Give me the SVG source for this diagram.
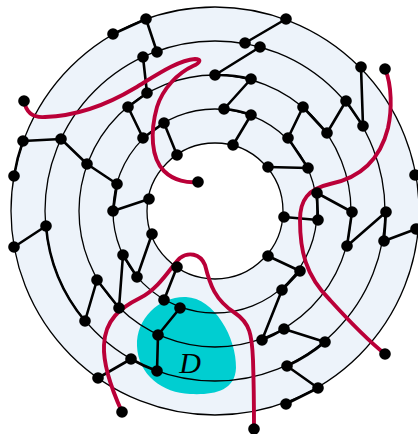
<svg xmlns="http://www.w3.org/2000/svg" width="418" height="434" viewBox="0 0 418 434">
<style>
.ring{fill:none;stroke:#000;stroke-width:1.3}
.e{fill:none;stroke:#000;stroke-width:2.6;stroke-linecap:round}
.r{fill:none;stroke:#BA0038;stroke-width:3.9;stroke-linecap:round;stroke-linejoin:round}
.n circle{fill:#000;r:5.8px}
</style>
<rect width="418" height="434" fill="#fff"/>
<path d="M215,7 A204,204 0 1 1 214.99,7 Z M215,143 A68,68 0 1 0 215.01,143 Z" fill="#EDF3FA" fill-rule="evenodd"/>
<path id="D-region" d="M137,346 C136,318 160,296 186,297 C214,298 237,338 236,368 C235,392 212,395 190,394 C163,393 138,375 137,346 Z" fill="#00CED1"/>
<g id="rings">
<circle class="ring" cx="215" cy="211" r="204"/>
<circle class="ring" cx="215" cy="211" r="170"/>
<circle class="ring" cx="215" cy="211" r="136"/>
<circle class="ring" cx="215" cy="211" r="102"/>
<circle class="ring" cx="215" cy="211" r="68"/>
</g>
<g id="connectors">
<path class="e" d="M113,34L146,19M146,19L157,52M143,57L147,93M147,93L128,107M128,107L143,138M143,138L164,123M164,123L177,155"/>
<path class="e" d="M23,141L61,139M23,141A204,204 0 0 0 14,176M61,139L87,164M87,164L117,184M117,184L113,211M113,211L149,199"/>
<path class="e" d="M14,247L46,226M46,226A170,170 0 0 0 85,321M97,280L85,321M97,280L119,308M123,255L119,308M123,255L137,277M152,234L137,277"/>
<path class="e" d="M177,267L164,300M180,308L158,335M158,335L157,371M131,359A170,170 0 0 0 157,371M98,378L131,359"/>
<path class="e" d="M286,19L245,43M260,47L215,75M215,75A136,136 0 0 1 251,79M251,79L224,109M224,109A102,102 0 0 1 251,115M251,115L233,145"/>
<path class="e" d="M303,107L288,138M303,107L327,133M327,133L346,101M346,101L363,126M361,67L363,126M288,138L308,168M268,167L308,168"/>
<path class="e" d="M317,193L352,212M317,193L318,220M284,217L318,220M352,212L347,246M347,246L386,212M386,212L384,241M384,241L416,229"/>
<path class="e" d="M268,256L300,271M300,271L282,290M282,290L262,340M262,340A136,136 0 0 0 284,329M284,329L325,342M325,342A170,170 0 0 1 287,366M287,366L318,388M318,388L286,404"/>
</g>
<g id="curves">
<path class="r" d="M24,101 C26,112 33,118 45,117 C75,116 105,106 135,88 C155,76 178,60 195,59 C202,59 200,63 193,66 C178,73 163,88 157,107 C150,132 151,158 164,171 C174,181 188,183 198,182"/>
<path class="r" d="M385,69 C392,85 392,110 388,128 C380,160 360,178 330,184 C308,189 300,200 300,220 C300,250 305,275 330,300 C350,322 370,342 385,354"/>
<path class="r" d="M122,412 C112,390 103,365 104,345 C105,320 120,308 140,298 C160,288 172,265 180,258 C188,252 200,253 205,265 C210,285 215,300 235,313 C250,323 252,335 253,360 C254,390 254,410 254,429"/>
</g>
<g id="nodes">
<g id="outer" class="n">
<circle cx="113" cy="34" r="5.8"/><circle cx="146" cy="19" r="5.8"/><circle cx="286" cy="19" r="5.8"/><circle cx="361" cy="67" r="5.8"/>
<circle cx="23" cy="141" r="5.8"/><circle cx="14" cy="176" r="5.8"/><circle cx="14" cy="247" r="5.8"/><circle cx="415" cy="175" r="5.8"/>
<circle cx="416" cy="229" r="5.8"/><circle cx="318" cy="388" r="5.8"/><circle cx="286" cy="404" r="5.8"/><circle cx="98" cy="378" r="5.8"/>
</g>
<g id="ring2" class="n">
<circle cx="157" cy="52" r="5.8"/><circle cx="143" cy="57" r="5.8"/><circle cx="245" cy="43" r="5.8"/><circle cx="260" cy="47" r="5.8"/>
<circle cx="346" cy="101" r="5.8"/><circle cx="363" cy="126" r="5.8"/><circle cx="61" cy="139" r="5.8"/><circle cx="46" cy="226" r="5.8"/>
<circle cx="85" cy="321" r="5.8"/><circle cx="131" cy="359" r="5.8"/><circle cx="157" cy="371" r="5.8"/><circle cx="386" cy="212" r="5.8"/>
<circle cx="384" cy="241" r="5.8"/><circle cx="325" cy="342" r="5.8"/><circle cx="287" cy="366" r="5.8"/>
</g>
<g id="ring3" class="n">
<circle cx="147" cy="93" r="5.8"/><circle cx="128" cy="107" r="5.8"/><circle cx="215" cy="75" r="5.8"/><circle cx="251" cy="79" r="5.8"/>
<circle cx="303" cy="107" r="5.8"/><circle cx="327" cy="133" r="5.8"/><circle cx="87" cy="164" r="5.8"/><circle cx="97" cy="280" r="5.8"/>
<circle cx="119" cy="308" r="5.8"/><circle cx="158" cy="335" r="5.8"/><circle cx="352" cy="212" r="5.8"/><circle cx="347" cy="246" r="5.8"/>
<circle cx="262" cy="340" r="5.8"/><circle cx="284" cy="329" r="5.8"/>
</g>
<g id="ring4" class="n">
<circle cx="224" cy="109" r="5.8"/><circle cx="251" cy="115" r="5.8"/><circle cx="143" cy="138" r="5.8"/><circle cx="164" cy="123" r="5.8"/>
<circle cx="288" cy="138" r="5.8"/><circle cx="308" cy="168" r="5.8"/><circle cx="117" cy="184" r="5.8"/><circle cx="113" cy="211" r="5.8"/>
<circle cx="123" cy="255" r="5.8"/><circle cx="137" cy="277" r="5.8"/><circle cx="164" cy="300" r="5.8"/><circle cx="180" cy="308" r="5.8"/>
<circle cx="317" cy="193" r="5.8"/><circle cx="318" cy="220" r="5.8"/><circle cx="300" cy="271" r="5.8"/><circle cx="282" cy="290" r="5.8"/>
</g>
<g id="ring5" class="n">
<circle cx="177" cy="155" r="5.8"/><circle cx="233" cy="145" r="5.8"/><circle cx="268" cy="167" r="5.8"/><circle cx="149" cy="199" r="5.8"/>
<circle cx="152" cy="234" r="5.8"/><circle cx="177" cy="267" r="5.8"/><circle cx="284" cy="217" r="5.8"/><circle cx="268" cy="256" r="5.8"/>
</g>
<g id="endpoints" class="n">
<circle cx="24" cy="101" r="5.8"/><circle cx="198" cy="182" r="5.8"/><circle cx="385" cy="69" r="5.8"/>
<circle cx="385" cy="354" r="5.8"/><circle cx="122" cy="412" r="5.8"/><circle cx="254" cy="429" r="5.8"/>
</g>
</g>
<g id="label-D"><text x="190" y="373" font-family="Liberation Serif, serif" font-style="italic" font-size="30" text-anchor="middle" fill="#000">D</text></g>
</svg>
